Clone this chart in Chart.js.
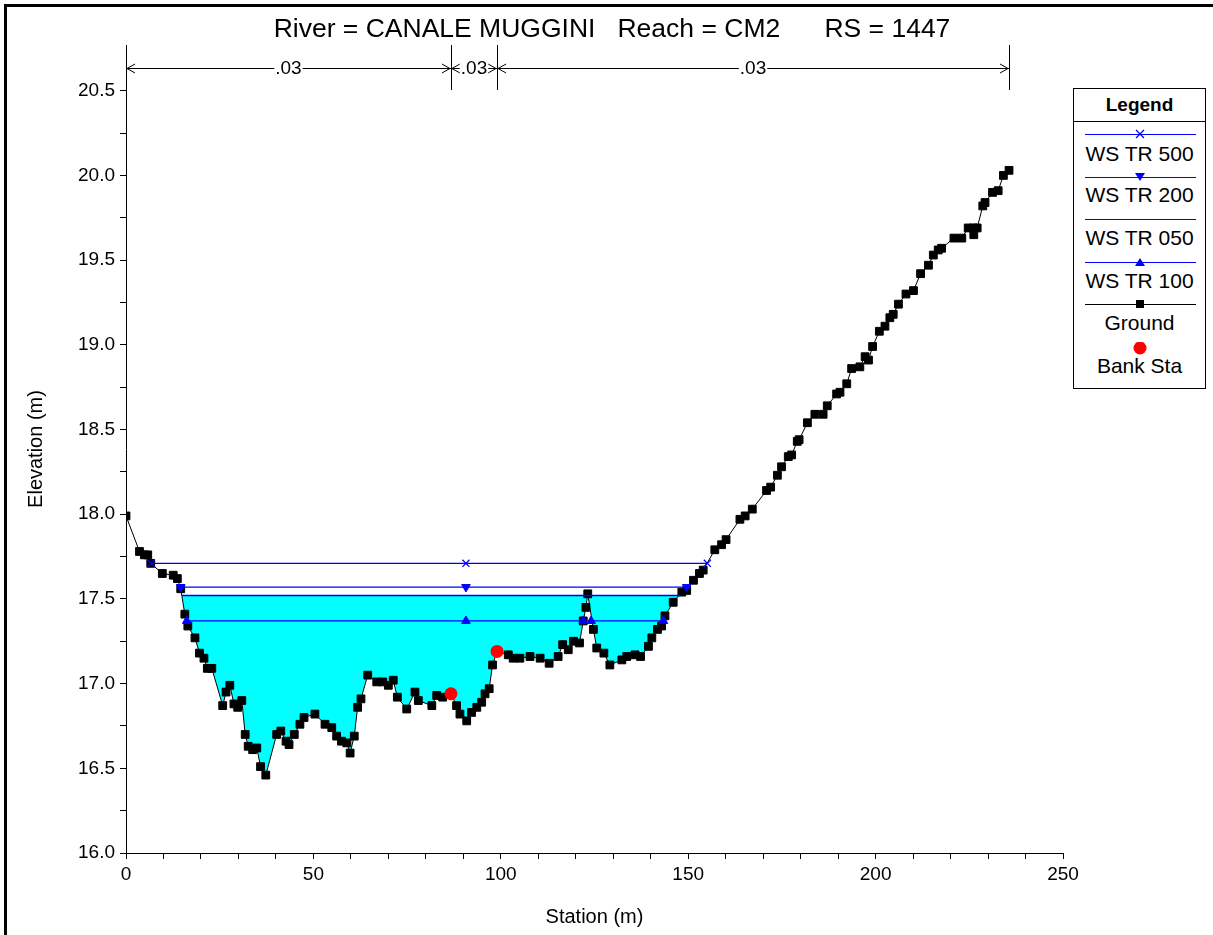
<!DOCTYPE html>
<html>
<head>
<meta charset="utf-8">
<script src="https://cdn.jsdelivr.net/npm/chart.js@4.4.1/dist/chart.umd.min.js"></script>
<style>
  html, body { margin: 0; padding: 0; background: #fff; }
  #wrap { position: relative; width: 1213px; height: 935px; overflow: hidden; }
  #legend {
    position: absolute; left: 1073px; top: 88px; width: 131px; height: 299px;
    border: 1px solid #000; background: #fff;
    font-family: "Liberation Sans", Arial, sans-serif; color: #000;
  }
  #legend .head {
    position: absolute; left: 0; top: 0; width: 100%; height: 32px;
    border-bottom: 1px solid #000; text-align: center; line-height: 32px;
    font-weight: bold; font-size: 19px;
  }
  #legend svg { position: absolute; left: 0; }
  #legend .txt { position: absolute; left: 0; width: 100%; text-align: center; font-size: 21px; line-height: 22px; }
</style>
</head>
<body>
<div id="wrap">
  <canvas id="chart" width="1213" height="935"></canvas>
  <div id="legend"><div class="head">Legend</div></div>
</div>
<script>
// ---- dati ----
const groundStation = [
  0, 3.6, 4.9, 5.8, 6.6, 9.7, 12.6, 13.7, 14.6, 15.7, 16.5, 18.4, 19.6, 20.8, 21.7, 22.9,
  25.8, 26.7, 27.7, 28.8, 29.8, 30.9, 31.8, 32.6, 33.8, 34.9, 35.9, 37.3, 40.2, 41.3, 42.7,
  43.5, 44.9, 46.4, 47.5, 50.4, 53.1, 54.9, 56.2, 57.5, 58.9, 59.8, 60.9, 61.8, 62.7, 64.5,
  66.9, 68.5, 70.0, 71.3, 72.4, 74.9, 77.1, 78.0, 81.6, 82.9, 84.5, 86.7, 88.2, 89.1, 90.9,
  92.2, 93.6, 94.9, 95.8, 96.9, 97.8, 99.0, 102.0, 103.3, 105.1, 107.8, 110.5, 112.9, 115.3,
  116.5, 118.0, 119.4, 121.0, 122.0, 122.7, 123.2, 124.7, 125.6, 127.5, 129.1, 132.3, 133.6,
  135.8, 137.3, 139.4, 140.3, 141.8, 142.9, 143.8, 146.0, 148.3, 149.6, 151.4, 153.0, 154.0,
  157.1, 158.9, 160.1, 163.8, 165.2, 167.1, 170.9, 172.0, 173.8, 174.9, 176.7, 177.6, 179.1,
  179.6, 181.8, 183.8, 186.0, 187.1, 189.6, 190.5, 192.3, 193.6, 195.8, 197.2, 198.1, 199.2,
  201.0, 202.5, 203.8, 204.7, 206.1, 208.1, 210.1, 212.0, 214.1, 215.4, 216.7, 217.6, 220.9,
  223.0, 224.7, 226.1, 226.2, 227.1, 228.6, 229.2, 231.2, 232.7, 234.1, 235.6
];
const groundElev = [
  17.99, 17.78, 17.76, 17.76, 17.71, 17.65, 17.64, 17.62, 17.56, 17.41, 17.34, 17.27, 17.18, 17.15, 17.09, 17.09,
  16.87, 16.95, 16.99, 16.88, 16.86, 16.90, 16.70, 16.63, 16.61, 16.62, 16.51, 16.46, 16.70, 16.72, 16.66,
  16.64, 16.70, 16.76, 16.80, 16.82, 16.76, 16.74, 16.69, 16.66, 16.65, 16.59, 16.69, 16.86, 16.91, 17.05,
  17.01, 17.01, 16.99, 17.02, 16.92, 16.85, 16.95, 16.90, 16.87, 16.93, 16.92, 16.94, 16.87, 16.82, 16.78,
  16.83, 16.86, 16.89, 16.94, 16.97, 17.11, 17.19, 17.17, 17.15, 17.15, 17.16, 17.15, 17.12, 17.16,
  17.23, 17.20, 17.25, 17.24, 17.37, 17.45, 17.53, 17.32, 17.21, 17.18, 17.11, 17.14, 17.16,
  17.17, 17.16, 17.22, 17.27, 17.32, 17.34, 17.40, 17.48, 17.54, 17.55, 17.61, 17.65, 17.67,
  17.79, 17.82, 17.85, 17.97, 17.99, 18.03, 18.14, 18.16, 18.23, 18.28, 18.34, 18.35, 18.43,
  18.44, 18.54, 18.59, 18.59, 18.64, 18.71, 18.72, 18.77, 18.86, 18.87, 18.93, 18.91, 18.99,
  19.08, 19.11, 19.16, 19.18, 19.24, 19.30, 19.32, 19.42, 19.47, 19.53, 19.56, 19.57, 19.63,
  19.63, 19.69, 19.69, 19.65, 19.69, 19.82, 19.84, 19.90, 19.91, 20.00, 20.03
];

const bankStation = [86.7, 99.0];
const bankElev = [16.94, 17.19];

// livelli idrici (quota costante) e stazioni dei marker
const ws500Elev = 17.71;
const ws500Station = [6.6, 90.7, 155.1];
const ws200Elev = 17.57;
const ws200Station = [14.6, 90.7, 149.6];
const ws050Elev = 17.52;
const ws050Station = [14.9, 147.9];
const ws100Elev = 17.37;
const ws100StationLeft = [16.2, 90.7, 122.0];
const ws100StationRight = [124.1, 143.4];

// coefficienti di Manning e limiti
const nValues = ['.03', '.03', '.03'];
const nBreaks = [0, 86.7, 99.0, 235.6];

const titleText = 'River = CANALE MUGGINI   Reach = CM2      RS = 1447';

const FONT = '"Liberation Sans", Arial, sans-serif';
const BLUE = '#0000ff';

const pts = (xs, ys) => xs.map((v, i) => ({ x: v, y: Array.isArray(ys) ? ys[i] : ys }));

const ws100Data = pts(ws100StationLeft, ws100Elev)
  .concat([{ x: (ws100StationLeft[2] + ws100StationRight[0]) / 2, y: null }])
  .concat(pts(ws100StationRight, ws100Elev));

// titolo, riquadro e coefficienti n in alto
const hecrasDecor = {
  id: 'hecrasDecor',
  afterDraw(chart) {
    const { ctx, scales: { x }, chartArea } = chart;
    ctx.save();
    // cornice
    ctx.strokeStyle = '#000';
    ctx.lineWidth = 3;
    ctx.beginPath();
    ctx.moveTo(5.5, 935);
    ctx.lineTo(5.5, 5.5);
    ctx.lineTo(1213, 5.5);
    ctx.stroke();

    // titolo
    ctx.fillStyle = '#000';
    ctx.font = '26.5px ' + FONT;
    ctx.textAlign = 'center';
    ctx.textBaseline = 'middle';
    ctx.fillText(titleText, 612, 30);

    // limiti e frecce
    ctx.lineWidth = 1;
    const yArr = 68;
    nBreaks.forEach(b => {
      const px = Math.round(x.getPixelForValue(b)) + 0.5;
      ctx.beginPath();
      ctx.moveTo(px, chartArea.top);
      ctx.lineTo(px, 90);
      ctx.stroke();
    });
    ctx.font = '19px ' + FONT;
    nValues.forEach((n, i) => {
      const x1 = x.getPixelForValue(nBreaks[i]);
      const x2 = x.getPixelForValue(nBreaks[i + 1]);
      ctx.beginPath();
      ctx.moveTo(x1, yArr + 0.5);
      ctx.lineTo(x2, yArr + 0.5);
      // punte aperte
      ctx.moveTo(x1 + 9, yArr - 4);
      ctx.lineTo(x1 + 1, yArr + 0.5);
      ctx.lineTo(x1 + 9, yArr + 5);
      ctx.moveTo(x2 - 9, yArr - 4);
      ctx.lineTo(x2 - 1, yArr + 0.5);
      ctx.lineTo(x2 - 9, yArr + 5);
      ctx.stroke();
      const cx = (x1 + x2) / 2;
      const w = ctx.measureText(n).width;
      ctx.fillStyle = '#fff';
      ctx.fillRect(cx - w / 2 - 1, yArr - 8, w + 2, 16);
      ctx.fillStyle = '#000';
      ctx.fillText(n, cx, yArr + 1);
    });
    ctx.restore();
  }
};

Chart.defaults.font.family = FONT;
Chart.defaults.color = '#000';

const ctx = document.getElementById('chart').getContext('2d');
const chart = new Chart(ctx, {
  type: 'line',
  data: {
    datasets: [
      {
        label: 'Bank Sta',
        data: pts(bankStation, bankElev),
        showLine: false,
        pointStyle: 'circle',
        pointRadius: 6.5,
        pointBackgroundColor: '#ff0000',
        pointBorderWidth: 0,
        borderColor: '#ff0000'
      },
      {
        label: 'WS TR 500',
        data: pts(ws500Station, ws500Elev),
        borderColor: BLUE,
        borderWidth: 1.3,
        pointStyle: 'crossRot',
        pointRadius: 5,
        pointBorderColor: BLUE,
        pointBorderWidth: 1.3
      },
      {
        label: 'WS TR 200',
        data: pts(ws200Station, ws200Elev),
        borderColor: BLUE,
        borderWidth: 1.3,
        pointStyle: 'triangle',
        pointRotation: 180,
        pointRadius: 5,
        pointBackgroundColor: BLUE,
        pointBorderColor: BLUE,
        pointBorderWidth: 1
      },
      {
        label: 'WS TR 050',
        data: pts(ws050Station, ws050Elev),
        borderColor: BLUE,
        borderWidth: 1.3,
        pointRadius: 0,
        // acqua tra il livello WS TR 050 e il fondo (dataset 5)
        fill: { target: 5, above: '#00ffff', below: 'rgba(0,0,0,0)' }
      },
      {
        label: 'WS TR 100',
        data: ws100Data,
        borderColor: BLUE,
        borderWidth: 1.3,
        spanGaps: false,
        pointStyle: 'triangle',
        pointRadius: 5,
        pointBackgroundColor: BLUE,
        pointBorderColor: BLUE,
        pointBorderWidth: 1
      },
      {
        label: 'Ground',
        data: pts(groundStation, groundElev),
        borderColor: '#000',
        borderWidth: 1,
        pointStyle: 'rect',
        pointRadius: 5.5,
        pointBackgroundColor: '#000',
        pointBorderColor: '#000',
        pointBorderWidth: 1
      }
    ]
  },
  options: {
    responsive: false,
    animation: false,
    events: [],
    layout: { padding: { left: 0, top: 45, right: 150, bottom: 0 } },
    elements: { line: { tension: 0 } },
    plugins: {
      legend: { display: false },
      tooltip: { enabled: false },
      title: { display: false },
      filler: { drawTime: 'beforeDatasetsDraw' }
    },
    scales: {
      x: {
        type: 'linear',
        min: 0,
        max: 250,
        afterFit: s => { s.height = 82; },
        ticks: {
          stepSize: 10,
          autoSkip: false,
          maxRotation: 0,
          padding: 4,
          font: { size: 19 },
          callback: v => (v % 50 === 0 ? String(v) : '')
        },
        grid: { drawOnChartArea: false, drawTicks: true, tickLength: 6, color: '#000' },
        border: { color: '#000', width: 1 },
        title: { display: true, text: 'Station (m)', font: { size: 20 }, padding: { top: 0, bottom: 6 } }
      },
      y: {
        type: 'linear',
        min: 16,
        max: 20.77,
        afterFit: s => { s.width = 126; },
        afterBuildTicks: s => { s.ticks = s.ticks.filter(t => t.value <= 20.5 + 1e-6); },
        ticks: {
          stepSize: 0.25,
          autoSkip: false,
          padding: 5,
          font: { size: 19 },
          callback: v => (Math.abs(v * 2 - Math.round(v * 2)) < 1e-6 ? v.toFixed(1) : '')
        },
        grid: { drawOnChartArea: false, drawTicks: true, tickLength: 6, color: '#000' },
        border: { color: '#000', width: 1 },
        title: { display: true, text: 'Elevation (m)', font: { size: 20 }, padding: { top: 24, bottom: 0 } }
      }
    }
  },
  plugins: [hecrasDecor]
});

// legenda a destra
const legendItems = [
  { label: 'WS TR 500', color: BLUE, marker: 'x', lineY: 45, textY: 65 },
  { label: 'WS TR 200', color: BLUE, marker: 'down', lineY: 88, textY: 106 },
  { label: 'WS TR 050', color: BLUE, marker: null, lineY: 130, textY: 149 },
  { label: 'WS TR 100', color: BLUE, marker: 'up', lineY: 173, textY: 192 },
  { label: 'Ground', color: '#000', marker: 'rect', lineY: 215, textY: 234 },
  { label: 'Bank Sta', color: '#ff0000', marker: 'circle', lineY: 259, textY: 277 }
];
const legend = document.getElementById('legend');
legendItems.forEach(it => {
  const cx = 66;
  let shape = '';
  if (it.marker === 'x') shape = `<path d="M${cx - 4},2 L${cx + 4},10 M${cx + 4},2 L${cx - 4},10" stroke="${it.color}" stroke-width="1.3"/>`;
  if (it.marker === 'down') shape = `<path d="M${cx - 5},2 L${cx + 5},2 L${cx},10 Z" fill="${it.color}"/>`;
  if (it.marker === 'up') shape = `<path d="M${cx - 5},10 L${cx + 5},10 L${cx},2 Z" fill="${it.color}"/>`;
  if (it.marker === 'rect') shape = `<rect x="${cx - 4}" y="2" width="8" height="8" fill="#000"/>`;
  if (it.marker === 'circle') shape = `<circle cx="${cx}" cy="6" r="6.5" fill="${it.color}"/>`;
  const line = it.marker === 'circle' ? '' : `<line x1="11" y1="6.5" x2="122" y2="6.5" stroke="${it.color}" stroke-width="1.2"/>`;
  legend.insertAdjacentHTML('beforeend',
    `<svg width="131" height="14" style="top:${it.lineY - 6}px">${line}${shape}</svg>` +
    `<div class="txt" style="top:${it.textY - 11}px">${it.label}</div>`);
});
</script>
</body>
</html>
